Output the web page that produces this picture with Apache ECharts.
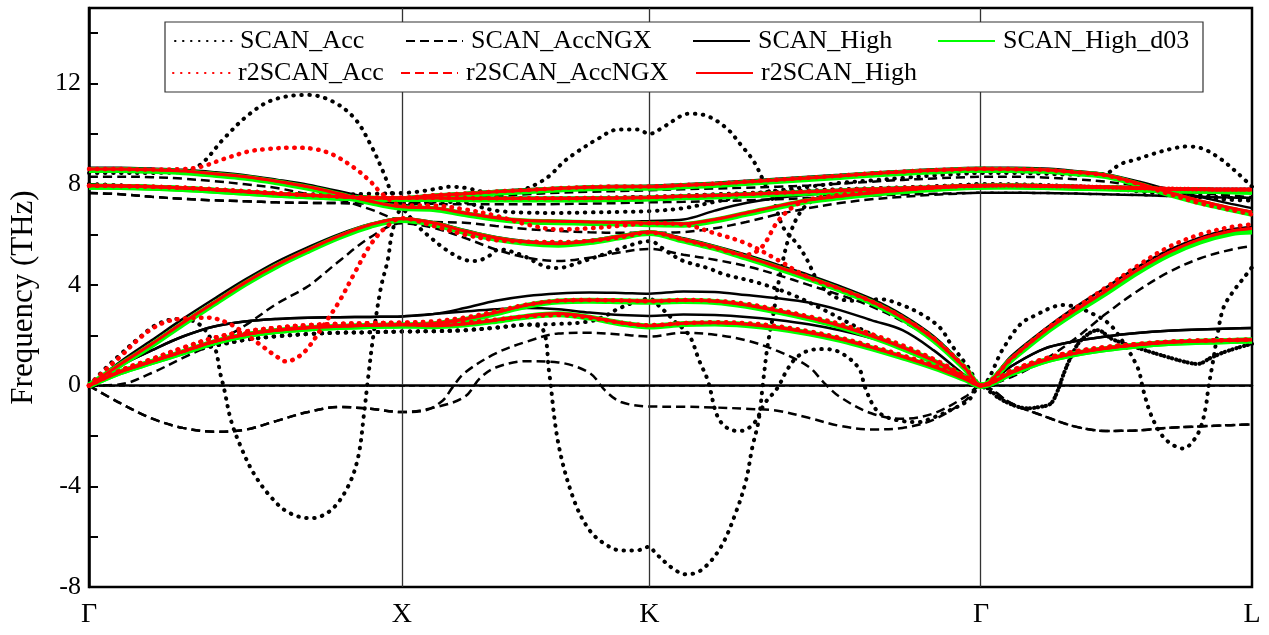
<!DOCTYPE html>
<html>
<head>
<meta charset="utf-8">
<script src="https://cdn.jsdelivr.net/npm/echarts@6/dist/echarts.min.js"></script>
<style>
  html, body { margin: 0; padding: 0; background: #fff; }
  #chart { width: 1269px; height: 635px; }
</style>
</head>
<body>
<div id="chart"></div>
<script>
/* phonon dispersion, SCAN vs r2SCAN */

// k-path: high symmetry points
const kLabels = ['Γ', 'X', 'K', 'Γ', 'L'];
const kTicks = [0, 1, 1.791, 2.851, 3.717];

// common k grid used by the smooth bands
const kGrid = [0, 0.1, 0.2, 0.3, 0.4, 0.5, 0.6, 0.7, 0.8, 0.9, 1.0,
    1.1, 1.2, 1.3, 1.4, 1.5, 1.6, 1.7, 1.791,
    1.9, 2.0, 2.1, 2.2, 2.3, 2.4, 2.5, 2.6, 2.7, 2.8, 2.851,
    2.95, 3.05, 3.15, 3.25, 3.35, 3.45, 3.55, 3.65, 3.717];

// ---- r2SCAN_High (THz on kGrid)
const rH_b1 = [0, 0.55, 0.95, 1.35, 1.75, 2.03, 2.2, 2.3, 2.36, 2.4, 2.42,
    2.38, 2.45, 2.6, 2.77, 2.86, 2.73, 2.5, 2.38,
    2.48, 2.5, 2.44, 2.31, 2.11, 1.85, 1.52, 1.15, 0.75, 0.26, 0,
    0.53, 0.99, 1.28, 1.48, 1.62, 1.72, 1.77, 1.8, 1.82];
const rH_b2 = [0, 0.55, 0.95, 1.35, 1.75, 2.03, 2.2, 2.3, 2.36, 2.4, 2.42,
    2.47, 2.64, 2.9, 3.2, 3.37, 3.4, 3.38, 3.36,
    3.39, 3.35, 3.2, 2.97, 2.7, 2.38, 1.98, 1.52, 0.99, 0.33, 0,
    0.53, 0.99, 1.28, 1.48, 1.62, 1.72, 1.77, 1.8, 1.82];
const rH_b3 = [0, 0.85, 1.65, 2.5, 3.3, 4.1, 4.8, 5.4, 5.95, 6.4, 6.63,
    6.47, 6.14, 5.87, 5.7, 5.64, 5.74, 5.94, 6.1,
    5.8, 5.5, 5.12, 4.72, 4.3, 3.85, 3.35, 2.7, 1.85, 0.7, 0,
    1.1, 2.11, 2.97, 3.76, 4.58, 5.28, 5.81, 6.14, 6.24];
const rH_b4 = [7.94, 7.93, 7.9, 7.85, 7.78, 7.7, 7.62, 7.56, 7.5, 7.46, 7.45,
    7.45, 7.44, 7.43, 7.43, 7.43, 7.44, 7.45, 7.47,
    7.52, 7.55, 7.6, 7.65, 7.7, 7.75, 7.8, 7.84, 7.88, 7.93, 7.94,
    7.95, 7.93, 7.9, 7.88, 7.84, 7.8, 7.79, 7.78, 7.78];
const rH_b5 = [7.94, 7.93, 7.9, 7.85, 7.78, 7.7, 7.62, 7.56, 7.5, 7.46, 7.45,
    7.55, 7.62, 7.7, 7.76, 7.83, 7.88, 7.9, 7.9,
    7.96, 8.01, 8.09, 8.17, 8.25, 8.33, 8.42, 8.49, 8.55, 8.6, 8.61,
    8.6, 8.57, 8.48, 8.36, 8.05, 7.68, 7.35, 7.06, 6.9];
const rH_b6 = [8.6, 8.6, 8.57, 8.52, 8.42, 8.3, 8.12, 7.9, 7.62, 7.32, 7.1,
    7.06, 6.86, 6.67, 6.56, 6.53, 6.5, 6.48, 6.45,
    6.43, 6.6, 6.86, 7.13, 7.37, 7.52, 7.65, 7.76, 7.85, 7.92, 7.94,
    7.95, 7.93, 7.9, 7.88, 7.84, 7.8, 7.79, 7.78, 7.78];

// ---- SCAN_High
const sH_b1 = [0, 0.8, 1.4, 1.95, 2.35, 2.55, 2.65, 2.7, 2.72, 2.73, 2.75,
    2.84, 2.94, 3.03, 3.08, 3.03, 2.9, 2.8, 2.77,
    2.82, 2.8, 2.73, 2.61, 2.44, 2.2, 1.89, 1.52, 0.99, 0.38, 0,
    0.79, 1.45, 1.76, 1.95, 2.09, 2.18, 2.23, 2.27, 2.29];
const sH_b2 = [0, 0.8, 1.4, 1.95, 2.35, 2.55, 2.65, 2.7, 2.72, 2.73, 2.75,
    2.84, 3.08, 3.37, 3.56, 3.66, 3.7, 3.68, 3.65,
    3.74, 3.72, 3.6, 3.47, 3.3, 3.0, 2.6, 2.2, 1.4, 0.4, 0,
    0.79, 1.45, 1.76, 1.95, 2.09, 2.18, 2.23, 2.27, 2.29];
const sH_b3 = [0, 0.95, 1.8, 2.65, 3.45, 4.22, 4.92, 5.5, 6.02, 6.42, 6.65,
    6.5, 6.18, 5.9, 5.73, 5.67, 5.77, 5.97, 6.12,
    5.85, 5.55, 5.2, 4.8, 4.4, 3.95, 3.45, 2.8, 1.95, 0.75, 0,
    1.2, 2.2, 3.1, 3.9, 4.7, 5.38, 5.88, 6.2, 6.3];
const sH_b4 = [7.96, 7.95, 7.92, 7.87, 7.8, 7.72, 7.64, 7.57, 7.52, 7.49, 7.48,
    7.48, 7.47, 7.46, 7.46, 7.46, 7.47, 7.48, 7.5,
    7.54, 7.58, 7.63, 7.68, 7.73, 7.78, 7.83, 7.87, 7.9, 7.94, 7.96,
    7.97, 7.95, 7.93, 7.9, 7.87, 7.84, 7.82, 7.81, 7.81];
const sH_b5 = [7.96, 7.95, 7.92, 7.87, 7.8, 7.72, 7.64, 7.57, 7.52, 7.49, 7.48,
    7.57, 7.65, 7.73, 7.8, 7.86, 7.91, 7.93, 7.94,
    8.0, 8.06, 8.14, 8.22, 8.3, 8.38, 8.46, 8.53, 8.59, 8.64, 8.65,
    8.65, 8.62, 8.53, 8.4, 8.12, 7.8, 7.5, 7.22, 7.05];
const sH_b6 = [8.65, 8.65, 8.62, 8.57, 8.48, 8.36, 8.18, 7.98, 7.72, 7.45, 7.2,
    7.0, 6.83, 6.67, 6.53, 6.47, 6.47, 6.5, 6.54,
    6.6, 6.95, 7.25, 7.45, 7.58, 7.68, 7.77, 7.84, 7.9, 7.94, 7.96,
    7.97, 7.95, 7.93, 7.9, 7.87, 7.84, 7.82, 7.81, 7.81];

// ---- SCAN_High_d03
const gH_b1 = [0, 0.53, 0.93, 1.32, 1.72, 2.0, 2.17, 2.27, 2.33, 2.37, 2.39,
    2.36, 2.43, 2.57, 2.74, 2.83, 2.7, 2.47, 2.35,
    2.45, 2.47, 2.41, 2.28, 2.08, 1.82, 1.49, 1.12, 0.72, 0.25, 0,
    0.5, 0.96, 1.25, 1.45, 1.59, 1.69, 1.74, 1.77, 1.79];
const gH_b2 = [0, 0.53, 0.93, 1.32, 1.72, 2.0, 2.17, 2.27, 2.33, 2.37, 2.39,
    2.44, 2.61, 2.87, 3.17, 3.34, 3.37, 3.35, 3.33,
    3.36, 3.32, 3.17, 2.94, 2.67, 2.35, 1.95, 1.49, 0.96, 0.32, 0,
    0.5, 0.96, 1.25, 1.45, 1.59, 1.69, 1.74, 1.77, 1.79];
const gH_b3 = [0, 0.82, 1.6, 2.45, 3.25, 4.05, 4.75, 5.35, 5.9, 6.35, 6.58,
    6.42, 6.1, 5.83, 5.66, 5.6, 5.7, 5.9, 6.06,
    5.76, 5.46, 5.08, 4.68, 4.26, 3.81, 3.31, 2.66, 1.81, 0.68, 0,
    1.05, 2.05, 2.9, 3.68, 4.5, 5.2, 5.72, 6.05, 6.12];
const gH_b4 = [7.9, 7.89, 7.86, 7.81, 7.74, 7.66, 7.58, 7.52, 7.46, 7.42, 7.41,
    7.41, 7.4, 7.39, 7.39, 7.39, 7.4, 7.41, 7.43,
    7.48, 7.51, 7.56, 7.61, 7.66, 7.71, 7.76, 7.8, 7.84, 7.89, 7.9,
    7.91, 7.89, 7.86, 7.84, 7.8, 7.76, 7.74, 7.72, 7.7];
const gH_b5 = [7.9, 7.89, 7.86, 7.81, 7.74, 7.66, 7.58, 7.52, 7.46, 7.42, 7.41,
    7.51, 7.58, 7.66, 7.72, 7.79, 7.84, 7.86, 7.86,
    7.92, 7.97, 8.05, 8.13, 8.21, 8.29, 8.38, 8.45, 8.51, 8.56, 8.57,
    8.56, 8.53, 8.44, 8.32, 8.0, 7.62, 7.28, 7.0, 6.82];
const gH_b6 = [8.56, 8.56, 8.53, 8.48, 8.38, 8.26, 8.08, 7.86, 7.58, 7.28, 7.06,
    7.02, 6.82, 6.63, 6.52, 6.49, 6.46, 6.44, 6.41,
    6.39, 6.56, 6.82, 7.09, 7.33, 7.48, 7.61, 7.72, 7.81, 7.88, 7.9,
    7.91, 7.89, 7.86, 7.84, 7.8, 7.76, 7.74, 7.72, 7.7];

// ---- SCAN_AccNGX
const dN_b1 = [[0, 0], [0.1, -0.7], [0.2, -1.3], [0.3, -1.68], [0.4, -1.83], [0.5, -1.75], [0.6, -1.4], [0.7, -1.05], [0.8, -0.85], [0.9, -0.92], [1, -1.05],
    [1.07, -1.0], [1.13, -0.6], [1.16, -0.1], [1.2, 0.5], [1.3, 1.28], [1.4, 1.75], [1.5, 2.07], [1.6, 2.1], [1.7, 2.03], [1.791, 1.95],
    [1.9, 2.1], [2.0, 2.02], [2.1, 1.8], [2.2, 1.38], [2.3, 0.75], [2.35, 0.1], [2.4, -0.45], [2.5, -1.1], [2.6, -1.32], [2.7, -1.1], [2.8, -0.45], [2.851, 0],
    [2.95, -0.72], [3.05, -1.2], [3.15, -1.62], [3.25, -1.8], [3.35, -1.78], [3.45, -1.68], [3.55, -1.62], [3.65, -1.57], [3.717, -1.54]];
const dN_b2 = [[0, 0], [0.1, -0.7], [0.2, -1.3], [0.3, -1.68], [0.4, -1.83], [0.5, -1.75], [0.6, -1.4], [0.7, -1.05], [0.8, -0.85], [0.9, -0.92], [1, -1.05],
    [1.1, -0.88], [1.2, -0.45], [1.25, 0.3], [1.3, 0.72], [1.4, 0.97], [1.5, 0.92], [1.6, 0.5], [1.65, -0.2], [1.7, -0.65], [1.791, -0.83],
    [1.9, -0.84], [2.0, -0.87], [2.1, -0.92], [2.2, -1.0], [2.3, -1.28], [2.4, -1.6], [2.5, -1.74], [2.6, -1.68], [2.7, -1.35], [2.8, -0.6], [2.851, 0],
    [2.95, -0.72], [3.05, -1.2], [3.15, -1.62], [3.25, -1.8], [3.35, -1.78], [3.45, -1.68], [3.55, -1.62], [3.65, -1.57], [3.717, -1.54]];
const dN_b3 = [0, 0.05, 0.5, 1.1, 1.68, 2.4, 3.25, 3.95, 4.95, 5.9, 6.45,
    6.27, 5.87, 5.41, 5.08, 4.95, 5.08, 5.3, 5.43,
    5.2, 5.0, 4.75, 4.4, 4.0, 3.6, 3.15, 2.55, 1.8, 0.7, 0,
    0.35, 1.0, 1.85, 2.85, 3.75, 4.5, 5.05, 5.4, 5.55];
const dN_b4 = [7.65, 7.6, 7.5, 7.42, 7.36, 7.32, 7.28, 7.26, 7.25, 7.24, 7.23,
    7.22, 7.2, 7.2, 7.2, 7.21, 7.23, 7.25, 7.28,
    7.3, 7.33, 7.36, 7.4, 7.45, 7.5, 7.55, 7.59, 7.62, 7.65, 7.66,
    7.66, 7.65, 7.63, 7.6, 7.57, 7.53, 7.5, 7.47, 7.46];
const dN_b5 = [7.65, 7.6, 7.5, 7.42, 7.36, 7.32, 7.28, 7.26, 7.25, 7.24, 7.23,
    7.32, 7.42, 7.52, 7.6, 7.66, 7.7, 7.73, 7.76,
    7.8, 7.83, 7.86, 7.9, 7.95, 8.02, 8.1, 8.17, 8.23, 8.28, 8.3,
    8.3, 8.27, 8.2, 8.1, 7.95, 7.8, 7.65, 7.55, 7.48];
const dN_b6 = [8.3, 8.3, 8.28, 8.22, 8.12, 8.0, 7.85, 7.6, 7.38, 7.0, 6.56,
    6.5, 6.47, 6.34, 6.22, 6.14, 6.09, 6.07, 6.07,
    6.1, 6.25, 6.5, 6.8, 7.05, 7.25, 7.4, 7.5, 7.58, 7.64, 7.66,
    7.66, 7.65, 7.63, 7.6, 7.57, 7.53, 7.5, 7.47, 7.46];

// ---- r2SCAN_Acc
const rA_b1 = [0, 0.6, 1.05, 1.5, 1.9, 2.15, 2.3, 2.4, 2.45, 2.48, 2.5,
    2.45, 2.5, 2.62, 2.75, 2.8, 2.7, 2.5, 2.4,
    2.48, 2.52, 2.48, 2.36, 2.16, 1.9, 1.57, 1.2, 0.8, 0.3, 0,
    0.6, 1.05, 1.35, 1.53, 1.65, 1.74, 1.79, 1.81, 1.83];
const rA_b2 = [0, 0.6, 1.05, 1.5, 1.9, 2.15, 2.3, 2.4, 2.45, 2.48, 2.5,
    2.55, 2.7, 2.95, 3.22, 3.37, 3.4, 3.38, 3.35,
    3.4, 3.37, 3.25, 3.02, 2.75, 2.45, 2.05, 1.6, 1.05, 0.38, 0,
    0.6, 1.05, 1.35, 1.53, 1.65, 1.74, 1.79, 1.81, 1.83];
const rA_b3 = [[0, 0], [0.05, 0.6], [0.1, 1.15], [0.15, 1.75], [0.2, 2.25], [0.25, 2.55], [0.3, 2.66], [0.38, 2.7], [0.45, 2.45], [0.5, 2.05], [0.55, 1.6], [0.6, 1.15], [0.63, 0.96], [0.67, 1.15], [0.7, 1.5], [0.75, 2.4], [0.8, 3.35], [0.85, 4.5], [0.9, 5.6], [0.95, 6.3], [1, 6.65],
    [1.1, 6.35], [1.2, 6.0], [1.3, 5.78], [1.4, 5.72], [1.5, 5.7], [1.6, 5.75], [1.7, 5.9], [1.791, 6.08],
    [1.9, 5.8], [2.0, 5.48], [2.1, 5.2], [2.15, 5.5], [2.2, 6.5], [2.25, 7.1], [2.3, 7.38], [2.4, 7.58], [2.5, 7.7], [2.6, 7.8], [2.7, 7.87], [2.8, 7.92], [2.851, 7.94],
    [2.95, 7.95], [3.05, 7.93], [3.15, 7.91], [3.25, 7.88], [3.35, 7.85], [3.45, 7.82], [3.55, 7.8], [3.65, 7.79], [3.717, 7.79]];
const rA_b4 = [7.94, 7.93, 7.9, 7.86, 7.8, 7.72, 7.64, 7.57, 7.51, 7.47, 7.46,
    7.46, 7.45, 7.44, 7.44, 7.44, 7.45, 7.46, 7.48,
    7.53, 7.56, 7.61, 7.66, 7.71, 7.76, 7.81, 7.85, 7.89, 7.93, 7.94,
    7.95, 7.93, 7.91, 7.88, 7.85, 7.82, 7.8, 7.79, 7.79];
const rA_b5 = [7.94, 7.93, 7.9, 7.86, 7.8, 7.72, 7.64, 7.57, 7.51, 7.47, 7.46,
    7.56, 7.63, 7.71, 7.77, 7.84, 7.89, 7.91, 7.91,
    7.97, 8.02, 8.1, 8.18, 8.26, 8.34, 8.43, 8.5, 8.56, 8.6, 8.61,
    8.6, 8.57, 8.48, 8.35, 8.02, 7.62, 7.25, 6.98, 6.8];
const rA_b6 = [[0, 8.6], [0.1, 8.6], [0.2, 8.58], [0.3, 8.6], [0.36, 8.7], [0.43, 9.0], [0.51, 9.3], [0.57, 9.4], [0.65, 9.45], [0.72, 9.4], [0.78, 9.17], [0.85, 8.63], [0.9, 8.1], [0.93, 7.7], [0.97, 7.3], [1, 7.15],
    [1.1, 7.15], [1.2, 7.0], [1.3, 6.75], [1.4, 6.4], [1.5, 6.2], [1.6, 6.25], [1.7, 6.35], [1.791, 6.45],
    [1.9, 6.4], [2.0, 6.05], [2.1, 5.65], [2.2, 5.0], [2.3, 4.3], [2.4, 3.85], [2.5, 3.35], [2.6, 2.72], [2.7, 1.88], [2.8, 0.72], [2.851, 0],
    [2.95, 1.1], [3.05, 2.15], [3.15, 3.05], [3.25, 3.9], [3.35, 4.75], [3.45, 5.5], [3.55, 6.0], [3.65, 6.3], [3.717, 6.4]];

// ---- SCAN_Acc
const sA_b1 = [[0, 0], [0.1, 0.55], [0.2, 0.95], [0.3, 1.3], [0.4, 1.58], [0.5, 1.82], [0.6, 1.96], [0.7, 2.05], [0.8, 2.1], [0.9, 2.12], [1, 2.15],
    [1.1, 2.16], [1.2, 2.2], [1.3, 2.3], [1.4, 2.42], [1.45, 2.25], [1.47, 0.6], [1.5, -2.3], [1.55, -4.55], [1.6, -5.75], [1.65, -6.3], [1.7, -6.55], [1.75, -6.55], [1.791, -6.4],
    [1.81, -6.65], [1.87, -7.3], [1.91, -7.5], [1.96, -7.3], [2.02, -6.4], [2.07, -4.95], [2.1, -3.76], [2.12, -2.45], [2.14, -1.39], [2.155, 0.2], [2.169, 1.6], [2.188, 2.9], [2.21, 4.5], [2.24, 6.0], [2.28, 7.0], [2.33, 7.45],
    [2.4, 7.6], [2.5, 7.72], [2.6, 7.82], [2.7, 7.9], [2.8, 7.97], [2.851, 8.0],
    [2.95, 8.0], [3.05, 7.97], [3.15, 7.92], [3.25, 7.85], [3.35, 7.72], [3.45, 7.6], [3.55, 7.48], [3.65, 7.38], [3.717, 7.35]];
const sA_b2 = [[0, 0], [0.1, 0.55], [0.2, 0.95], [0.3, 1.3], [0.4, 1.58], [0.5, 1.82], [0.6, 1.96], [0.7, 2.05], [0.8, 2.1], [0.9, 2.12], [1, 2.15],
    [1.1, 2.16], [1.2, 2.2], [1.3, 2.3], [1.4, 2.42], [1.5, 2.45], [1.6, 2.55], [1.65, 2.77], [1.7, 3.1], [1.791, 3.45],
    [1.827, 3.1], [1.85, 2.84], [1.87, 2.57], [1.9, 2.25], [1.923, 1.9], [1.95, 1.0], [1.978, 0.2], [2.01, -1.26], [2.05, -1.75], [2.083, -1.8], [2.125, -1.5], [2.16, -0.7], [2.2, -0.1], [2.23, 0.6], [2.26, 1.1],
    [2.3, 1.39], [2.35, 1.45], [2.4, 1.32], [2.46, 0.7], [2.48, -0.06], [2.51, -0.86], [2.54, -1.2], [2.59, -1.39], [2.65, -1.45], [2.7, -1.26], [2.75, -0.99], [2.81, -0.59], [2.851, 0],
    [2.923, -0.6], [3.0, -0.9], [3.032, -0.86], [3.073, -0.72], [3.096, -0.2], [3.115, 0.46], [3.137, 1.1], [3.169, 1.78], [3.224, 2.2], [3.27, 1.85], [3.351, 1.5], [3.457, 1.1], [3.511, 0.92], [3.543, 0.86], [3.585, 1.1], [3.626, 1.32], [3.671, 1.5], [3.717, 1.66]];
const sA_b3 = [[0, 0], [0.054, 0.71], [0.096, 1.19], [0.16, 1.9], [0.22, 2.45], [0.284, 2.65], [0.351, 2.45], [0.4, 1.58], [0.42, 0.46], [0.431, -0.08], [0.454, -1.39], [0.486, -2.45], [0.527, -3.5], [0.581, -4.42], [0.636, -5.03], [0.709, -5.27], [0.773, -4.95], [0.827, -4.03], [0.86, -2.85], [0.879, -1.12], [0.891, 0.2], [0.91, 2.1], [0.933, 3.9], [0.955, 5.0], [0.971, 6.2], [1, 7.0],
    [1.045, 6.4], [1.086, 5.94], [1.14, 5.41], [1.195, 5.02], [1.236, 4.95], [1.278, 5.15], [1.31, 5.41], [1.38, 5.2], [1.454, 4.75], [1.498, 4.67], [1.562, 4.87], [1.658, 5.27], [1.741, 5.62], [1.791, 5.74],
    [1.85, 5.3], [1.9, 4.95], [1.978, 4.67], [2.03, 4.42], [2.14, 4.08], [2.25, 3.6], [2.35, 3.0], [2.45, 2.35], [2.55, 1.75], [2.65, 1.2], [2.75, 0.6], [2.851, 0],
    [2.923, -0.6], [3.0, -0.9], [3.032, -0.86], [3.073, -0.72], [3.096, -0.2], [3.115, 0.46], [3.137, 1.1], [3.169, 1.78], [3.224, 2.2], [3.27, 1.85], [3.351, 1.5], [3.457, 1.1], [3.511, 0.92], [3.543, 0.86], [3.585, 1.1], [3.626, 1.32], [3.671, 1.5], [3.717, 1.66]];
const sA_b4 = [[0, 8.0], [0.1, 7.95], [0.2, 7.88], [0.3, 7.8], [0.4, 7.72], [0.5, 7.65], [0.6, 7.58], [0.7, 7.52], [0.8, 7.48], [0.9, 7.45], [1, 7.43],
    [1.1, 7.44], [1.2, 7.42], [1.3, 7.4], [1.4, 7.4], [1.5, 7.42], [1.6, 7.45], [1.7, 7.48], [1.791, 7.5],
    [1.9, 7.55], [2.0, 7.6], [2.1, 7.65], [2.2, 7.7], [2.3, 7.75], [2.4, 7.8], [2.5, 7.84], [2.6, 7.88], [2.7, 7.92], [2.8, 7.97], [2.851, 8.0],
    [2.95, 7.98], [3.05, 7.95], [3.15, 7.9], [3.25, 7.85], [3.35, 7.75], [3.45, 7.65], [3.55, 7.55], [3.65, 7.45], [3.717, 7.4]];
const sA_b5 = [[0, 8.0], [0.1, 7.95], [0.2, 7.88], [0.3, 7.8], [0.4, 7.74], [0.5, 7.68], [0.6, 7.63], [0.7, 7.6], [0.8, 7.6], [0.9, 7.62], [1, 7.65],
    [1.05, 7.7], [1.102, 7.8], [1.157, 7.9], [1.21, 7.84], [1.252, 7.72], [1.32, 7.68], [1.39, 7.8], [1.444, 8.1], [1.476, 8.38], [1.518, 8.9], [1.562, 9.3], [1.626, 9.8], [1.69, 10.17], [1.754, 10.17], [1.791, 10.0],
    [1.827, 10.2], [1.9, 10.76], [1.923, 10.8], [1.978, 10.7], [2.04, 10.2], [2.083, 9.57], [2.125, 8.9], [2.157, 8.1], [2.188, 7.33], [2.22, 6.26], [2.265, 5.6], [2.297, 4.95], [2.329, 4.16], [2.38, 3.55],
    [2.44, 3.37], [2.53, 3.43], [2.59, 3.24], [2.66, 2.84], [2.72, 2.3], [2.754, 1.66], [2.81, 0.73], [2.851, 0],
    [2.923, 1.5], [2.978, 2.45], [3.032, 2.84], [3.083, 3.13], [3.115, 3.2], [3.16, 3.1], [3.21, 2.84], [3.256, 2.5], [3.288, 2.05], [3.351, 0.73], [3.37, -0.2], [3.393, -1.12], [3.425, -1.9], [3.457, -2.3], [3.498, -2.5], [3.53, -2.18], [3.553, -1.66], [3.569, -0.86], [3.578, -0.06], [3.591, 0.86], [3.607, 2.05], [3.626, 3.1], [3.658, 3.76], [3.69, 4.27], [3.717, 4.7]];
const sA_b6 = [[0, 8.45], [0.1, 8.45], [0.2, 8.45], [0.3, 8.5], [0.358, 8.8], [0.43, 9.8], [0.51, 10.76], [0.59, 11.36], [0.7, 11.55], [0.78, 11.28], [0.85, 10.6], [0.9, 9.57], [0.94, 8.5], [0.97, 7.6], [1, 7.2],
    [1.1, 7.3], [1.2, 7.28], [1.25, 7.1], [1.3, 6.95], [1.4, 6.87], [1.5, 6.86], [1.6, 6.88], [1.7, 6.9], [1.791, 6.93],
    [1.9, 7.05], [2.0, 7.3], [2.1, 7.55], [2.2, 7.75], [2.3, 7.9], [2.4, 8.05], [2.5, 8.15], [2.6, 8.25], [2.7, 8.35], [2.8, 8.42], [2.851, 8.45],
    [2.95, 8.45], [3.05, 8.42], [3.15, 8.38], [3.243, 8.4], [3.297, 8.8], [3.351, 9.0], [3.40, 9.2], [3.457, 9.4], [3.511, 9.5], [3.562, 9.4], [3.617, 9.0], [3.671, 8.44], [3.717, 7.9]];

const seriesNames = ['SCAN_Acc', 'SCAN_AccNGX', 'SCAN_High', 'SCAN_High_d03', 'r2SCAN_Acc', 'r2SCAN_AccNGX', 'r2SCAN_High'];
const bandSets = [
    [sA_b1, sA_b2, sA_b3, sA_b4, sA_b5, sA_b6],
    [dN_b1, dN_b2, dN_b3, dN_b4, dN_b5, dN_b6],
    [sH_b1, sH_b2, sH_b3, sH_b4, sH_b5, sH_b6],
    [gH_b1, gH_b2, gH_b3, gH_b4, gH_b5, gH_b6],
    [rA_b1, rA_b2, rA_b3, rA_b4, rA_b5, rA_b6],
    [rH_b1, rH_b2, rH_b3, rH_b4, rH_b5, rH_b6],   // AccNGX lies under r2SCAN_High
    [rH_b1, rH_b2, rH_b3, rH_b4, rH_b5, rH_b6]
];

const dotted = [0.5, 7.5];
const lineStyles = [
    { color: '#000', width: 4, type: dotted, cap: 'round' },
    { color: '#000', width: 2.5, type: [9, 5] },
    { color: '#000', width: 2.5 },
    { color: '#00ff00', width: 6 },
    { color: '#ff0000', width: 4.5, type: dotted, cap: 'round' },
    { color: '#ff0000', width: 2.5, type: [9, 5] },
    { color: '#ff0000', width: 3 }
];

const FONT = 'Liberation Serif';

function toPoints(b) {
    return Array.isArray(b[0]) ? b : b.map((y, i) => [kGrid[i], y]);
}

const series = [{
    type: 'line', data: [], silent: true, z: 1,
    markLine: {
        silent: true, symbol: 'none', label: { show: false }, animation: false,
        data: [
            ...kTicks.slice(1, 4).map(k => ({ xAxis: k, lineStyle: { color: '#333', width: 1.3, type: 'solid' } })),
            { yAxis: 0, lineStyle: { color: '#000', width: 1.5, type: [6, 4] } }
        ]
    }
}];
seriesNames.forEach((name, si) => {
    bandSets[si].forEach(b => {
        series.push({
            name, type: 'line', data: toPoints(b),
            symbol: 'none', showSymbol: false,
            smooth: 0.35, silent: true,
            lineStyle: lineStyles[si],
            itemStyle: { color: lineStyles[si].color },
            z: 2 + si
        });
    });
});

// legend placement (two rows)
const legendSpots = [
    [174, 28], [405, 28], [692, 28], [937, 28],
    [172, 60], [400, 60], [695, 60]
];
const legends = seriesNames.map((name, i) => ({
    data: [name], left: legendSpots[i][0], top: legendSpots[i][1],
    itemWidth: 57, itemHeight: 14, itemGap: 0, padding: 0,
    itemStyle: { opacity: 0 },
    textStyle: { fontFamily: FONT, fontSize: 26, color: '#000', padding: [0, 0, 0, 3] },
    selectedMode: false, z: 20
}));

const chart = echarts.init(document.getElementById('chart'));
chart.setOption({
    animation: false,
    backgroundColor: '#fff',
    grid: { left: 88, right: 17, top: 8, bottom: 48, show: true, borderColor: '#000', borderWidth: 2.5 },
    graphic: [{
        type: 'rect', z: 15,
        shape: { x: 165, y: 22, width: 1038, height: 70 },
        style: { fill: '#fff', stroke: '#333', lineWidth: 1.2 }
    }],
    legend: legends,
    xAxis: {
        type: 'value', min: 0, max: kTicks[kTicks.length - 1],
        axisLine: { show: true, lineStyle: { color: '#000', width: 2.5 } },
        axisTick: { show: false },
        splitLine: { show: false },
        axisLabel: {
            customValues: kTicks,
            formatter: v => kLabels[kTicks.indexOf(v)] || '',
            fontFamily: FONT, fontSize: 28, color: '#000', margin: 14
        }
    },
    yAxis: {
        type: 'value', min: -8, max: 15, interval: 2,
        name: 'Frequency (THz)', nameLocation: 'middle', nameGap: 50,
        nameTextStyle: { fontFamily: FONT, fontSize: 31, color: '#000' },
        axisLine: { show: true, lineStyle: { color: '#000', width: 2.5 } },
        axisTick: { inside: true, length: 9, lineStyle: { color: '#000', width: 2 } },
        splitLine: { show: false },
        axisLabel: {
            formatter: v => (v % 4 === 0 ? String(v) : ''),
            fontFamily: FONT, fontSize: 26, color: '#000', margin: 8
        }
    },
    series
});
</script>
</body>
</html>
